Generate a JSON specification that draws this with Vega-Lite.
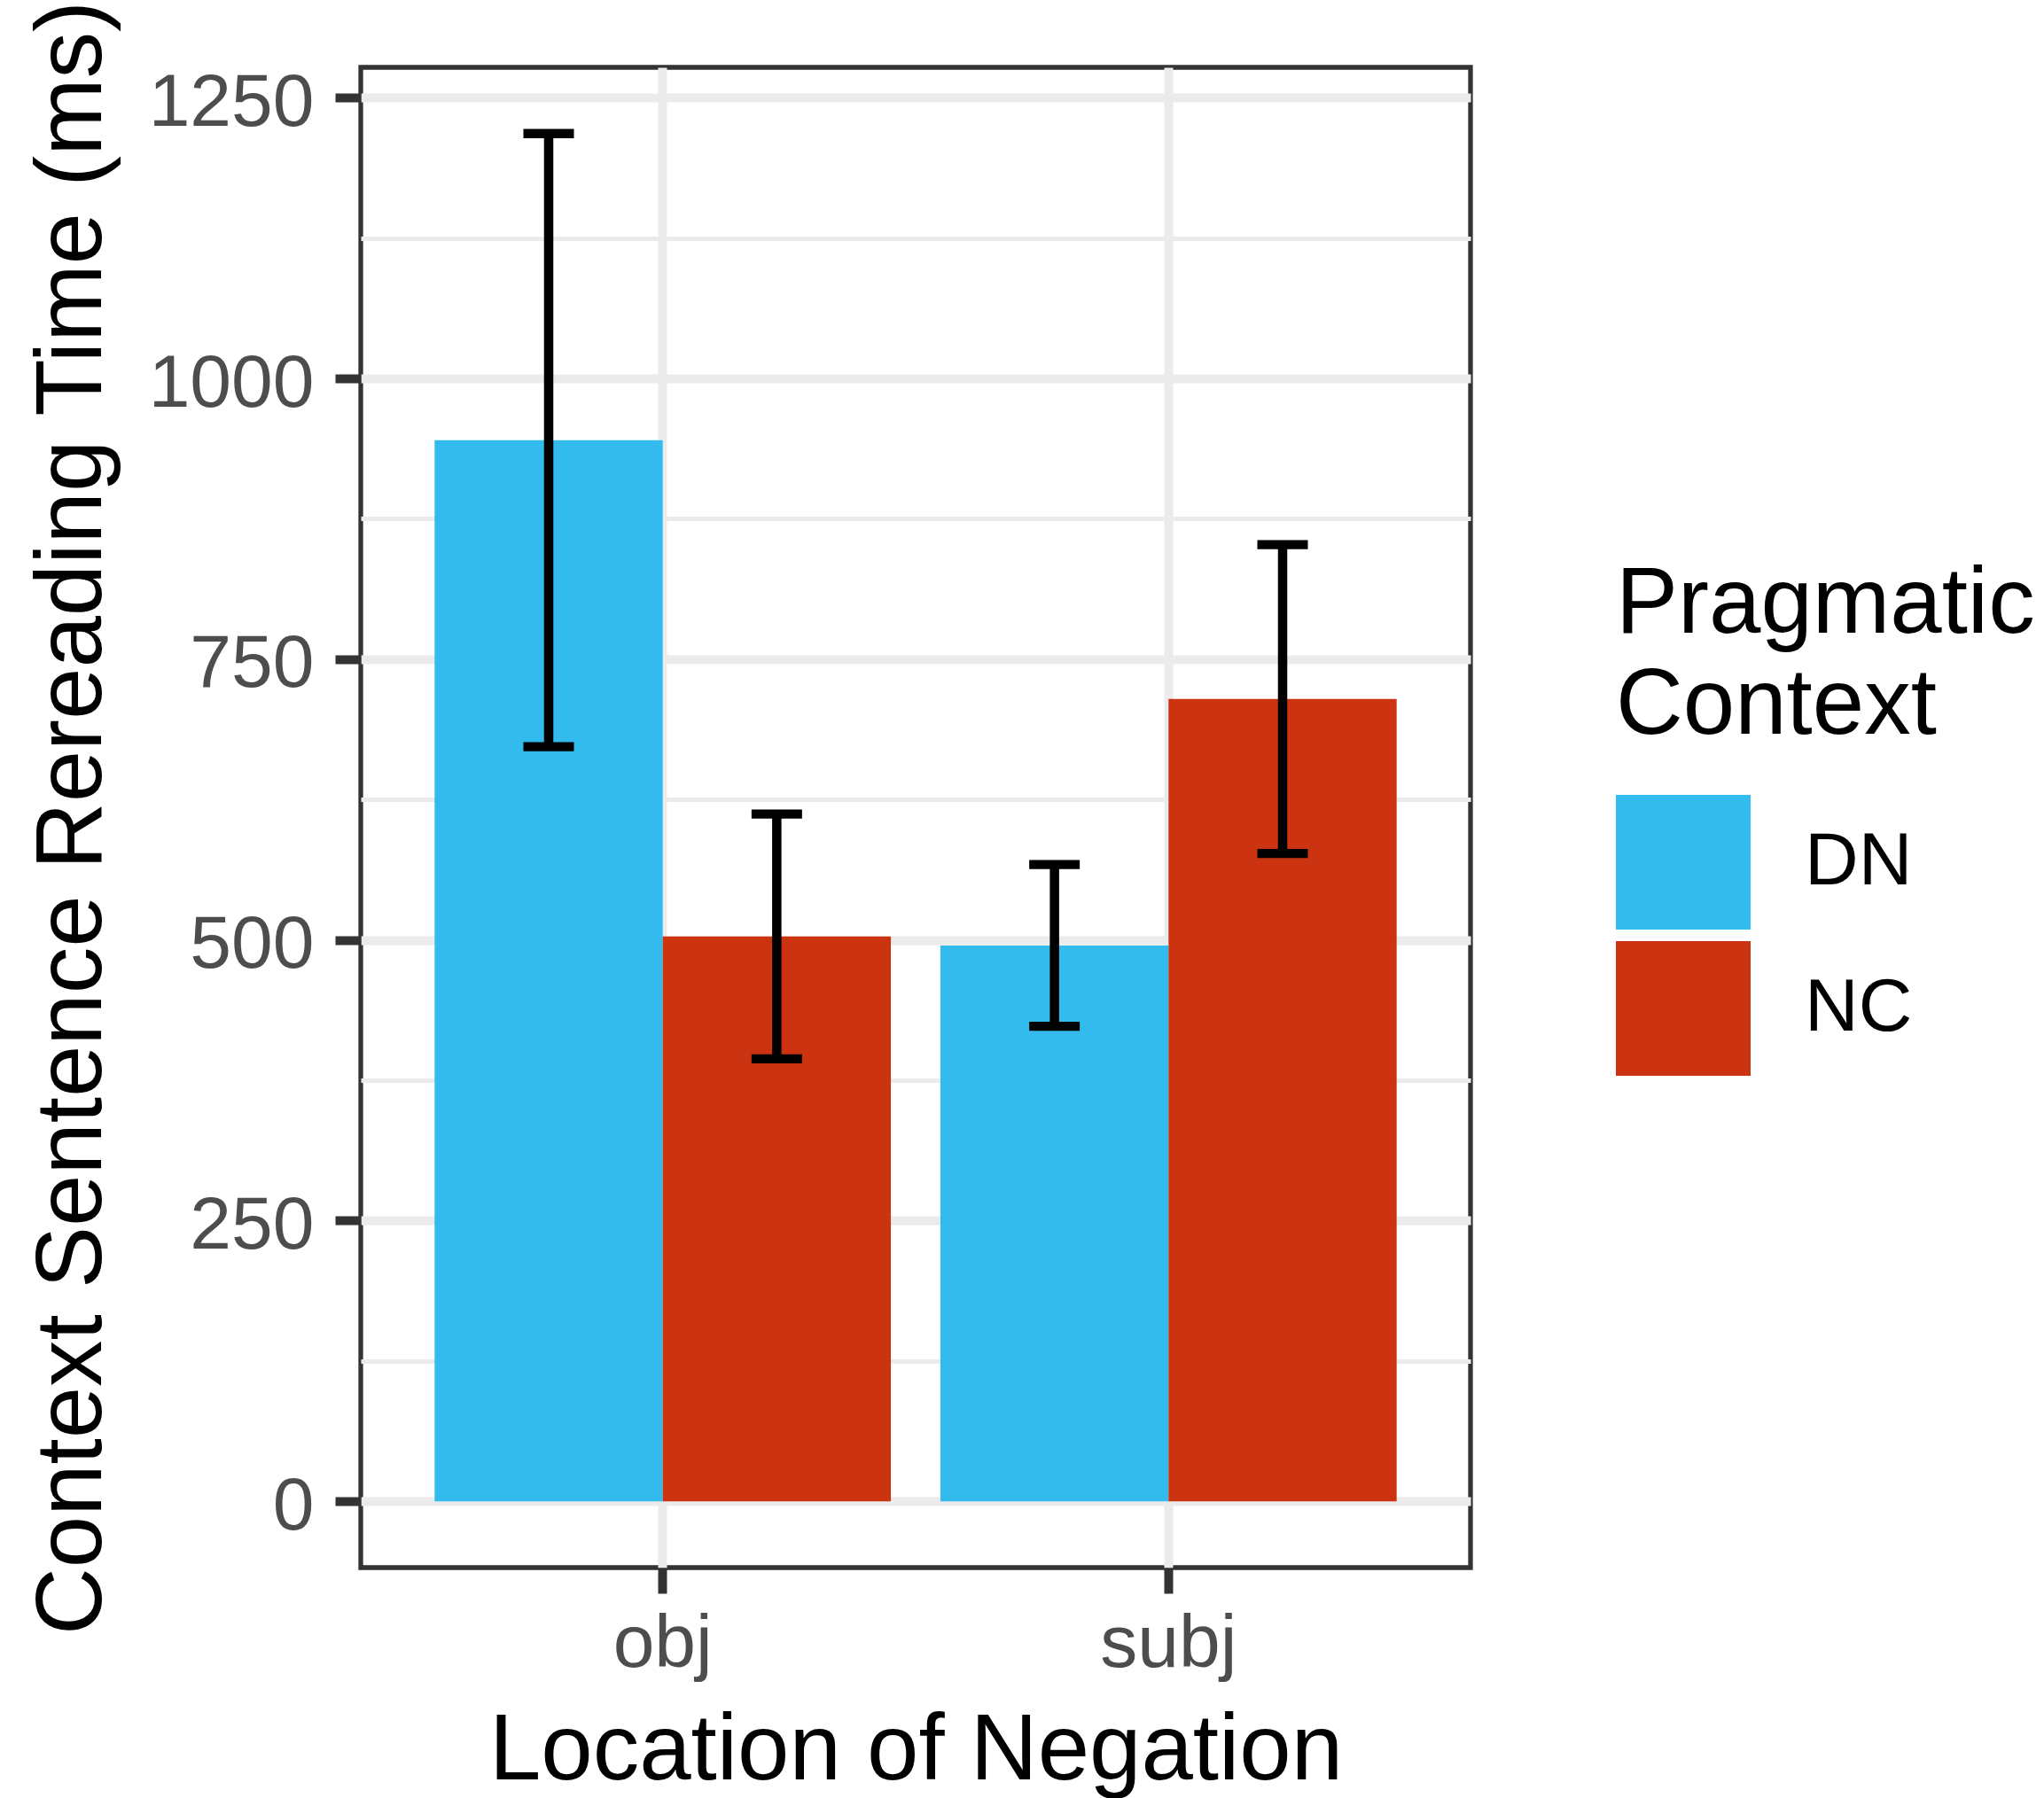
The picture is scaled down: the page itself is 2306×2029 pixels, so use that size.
{
  "$schema": "https://vega.github.io/schema/vega-lite/v6.json",
  "width": 1252,
  "height": 1693,
  "autosize": {"type": "none"},
  "padding": {"left": 407, "top": 76, "right": 647, "bottom": 260},
  "background": "white",
  "config": {
    "font": "Liberation Sans",
    "view": {"stroke": "#333333", "strokeWidth": 5.3},
    "axis": {
      "gridColor": "#EBEBEB",
      "tickColor": "#333333",
      "labelColor": "#4D4D4D",
      "labelFont": "Liberation Sans",
      "titleFont": "Liberation Sans",
      "labelFontSize": 84,
      "titleFontSize": 105,
      "titleFontWeight": "normal",
      "titleColor": "black",
      "domain": false,
      "tickSize": 29,
      "tickWidth": 10,
      "labelLimit": 0,
      "titleLimit": 0
    }
  },
  "data": {
    "values": [
      {"Location": "obj", "Context": "DN", "Mean": 945, "Lo": 672, "Hi": 1218},
      {"Location": "obj", "Context": "NC", "Mean": 503, "Lo": 394, "Hi": 612},
      {"Location": "subj", "Context": "DN", "Mean": 495, "Lo": 423, "Hi": 567},
      {"Location": "subj", "Context": "NC", "Mean": 714.5, "Lo": 577, "Hi": 852}
    ]
  },
  "resolve": {"axis": {"y": "independent"}},
  "layer": [
    {
      "mark": {"type": "bar"},
      "encoding": {
        "x": {
          "field": "Location", "type": "nominal",
          "scale": {"domain": ["obj", "subj"], "paddingInner": 0.098, "paddingOuter": 0.146},
          "axis": {
            "title": "Location of Negation",
            "grid": true, "gridWidth": 10, "bandPosition": 0.5,
            "labelAngle": 0, "labelPadding": 16.6, "labelBaseline": "top",
            "titleY": 238, "titleBaseline": "alphabetic"
          }
        },
        "xOffset": {"field": "Context", "type": "nominal", "scale": {"domain": ["DN", "NC"], "paddingInner": 0, "paddingOuter": 0}},
        "y": {
          "field": "Mean", "type": "quantitative",
          "scale": {"domain": [-59, 1277], "nice": false, "zero": false},
          "axis": {
            "title": "Context Sentence Rereading Time (ms)",
            "values": [0, 250, 500, 750, 1000, 1250],
            "format": "d",
            "grid": true, "gridWidth": 10,
            "labelBaseline": "alphabetic", "labelOffset": 31, "labelPadding": 24, "labelFlush": false,
            "titleX": -294, "titleY": 846.5, "titleBaseline": "alphabetic", "titleAngle": -90, "titleAlign": "center",
            "orient": "left"
          }
        },
        "color": {
          "field": "Context", "type": "nominal",
          "scale": {"domain": ["DN", "NC"], "range": ["#33BBEE", "#CC3311"]},
          "legend": {
            "title": ["Pragmatic", "Context"],
            "orient": "none", "legendX": 1416, "legendY": 555,
            "symbolType": "square", "symbolSize": 23104, "symbolStrokeWidth": 0,
            "labelFontSize": 84, "labelFont": "Liberation Sans", "labelColor": "black", "labelLimit": 0,
            "titleFontSize": 105, "titleFont": "Liberation Sans", "titleColor": "black", "titleFontWeight": "normal", "titleLimit": 0,
            "titleLineHeight": 114, "titlePadding": 47, "rowPadding": 13, "labelOffset": 61, "padding": 0
          }
        }
      }
    },
    {
      "mark": {"type": "rule", "strokeWidth": 10.5, "color": "black"},
      "encoding": {
        "x": {"field": "Location", "type": "nominal"},
        "xOffset": {"field": "Context", "type": "nominal"},
        "y": {"field": "Lo", "type": "quantitative", "axis": null},
        "y2": {"field": "Hi"}
      }
    },
    {
      "mark": {"type": "tick", "thickness": 10.3, "size": 57, "color": "black", "opacity": 1},
      "encoding": {
        "x": {"field": "Location", "type": "nominal"},
        "xOffset": {"field": "Context", "type": "nominal"},
        "y": {"field": "Hi", "type": "quantitative", "axis": null}
      }
    },
    {
      "mark": {"type": "tick", "thickness": 10.3, "size": 57, "color": "black", "opacity": 1},
      "encoding": {
        "x": {"field": "Location", "type": "nominal"},
        "xOffset": {"field": "Context", "type": "nominal"},
        "y": {
          "field": "Lo", "type": "quantitative",
          "axis": {"values": [125, 375, 625, 875, 1125], "grid": true, "gridWidth": 5, "labels": false, "ticks": false, "title": null, "orient": "left", "domain": false}
        }
      }
    }
  ]
}
